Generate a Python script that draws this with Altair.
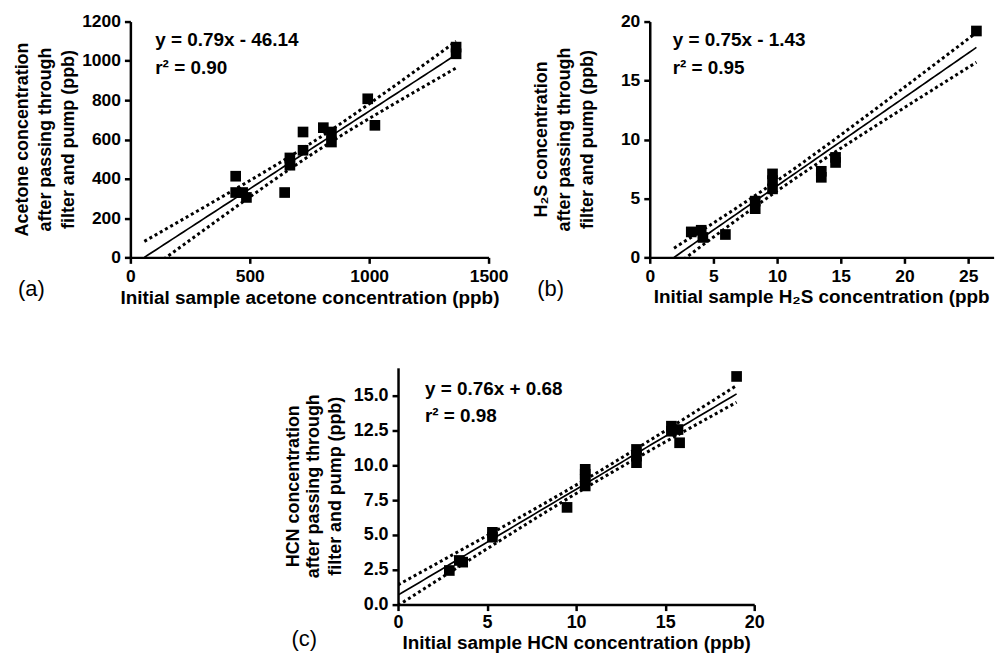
import numpy as np
import pandas as pd
import altair as alt

FONT = "Liberation Sans"

# ---------------- data ----------------
# (a) acetone (ppb)
acetone_initial = [441, 441, 470, 486, 646, 668, 668, 723, 723, 808, 842, 842, 994, 1024, 1364, 1364]
acetone_after = [413, 330, 330, 305, 330, 506, 469, 638, 545, 660, 638, 587, 807, 672, 1070, 1036]
acetone_fit = (0.79, -46.14)           # printed regression
acetone_band_end = 68                  # half-width of the dotted 95% band at the right end (read)
acetone_eq = ["y = 0.79x - 46.14", "r² = 0.90"]

# (b) H2S (ppb)
h2s_initial = [3.26, 4.04, 4.17, 5.94, 8.28, 8.28, 9.64, 9.64, 9.64, 13.47, 13.47, 14.59, 14.59, 25.65]
h2s_after = [2.16, 2.30, 1.69, 1.94, 4.77, 4.13, 7.08, 6.51, 5.81, 7.30, 6.79, 8.48, 8.05, 19.2]
h2s_fit = (0.75, -1.43)
h2s_band_end = 1.26
h2s_eq = ["y = 0.75x - 1.43", "r² = 0.95"]

# (c) HCN (ppb)
hcn_initial = [2.88, 3.44, 3.63, 5.30, 5.30, 9.49, 10.51, 10.51, 10.51, 10.51, 13.39, 13.39, 13.39,
               15.35, 15.35, 15.72, 15.81, 19.01]
hcn_after = [2.45, 3.17, 3.05, 5.19, 4.84, 6.98, 9.71, 9.36, 9.00, 8.52, 11.14, 10.66, 10.19,
             12.81, 12.45, 12.57, 11.62, 16.38]
hcn_fit = (0.76, 0.68)
hcn_band_end = 0.6
hcn_eq = ["y = 0.76x + 0.68", "r² = 0.98"]

ytitle_lines_tail = ["after passing through", "filter and pump (ppb)"]


def fit_and_band(xs, ys, fit, band_end, npts=80):
    """Regression line with a confidence band whose shape follows the data
    (1/n + (x - mean)^2 / Sxx) and whose width matches the band read at the right end."""
    xs = np.asarray(xs, float)
    slope, icpt = fit
    n = len(xs)
    xbar = xs.mean()
    sxx = np.sum((xs - xbar) ** 2)
    shape = lambda g: np.sqrt(1.0 / n + (g - xbar) ** 2 / sxx)
    k = band_end / shape(xs.max())
    x0 = max(0.0, -icpt / slope)
    grid = np.linspace(x0, xs.max(), npts)
    yfit = slope * grid + icpt
    half = k * shape(grid)
    return (pd.DataFrame({"x": grid, "y": yfit}),
            pd.DataFrame({"x": grid, "y": yfit + half}),
            pd.DataFrame({"x": grid, "y": yfit - half}))


one = pd.DataFrame({"k": [0]})


def text(txt, x, y, size=19, weight="bold", angle=0, align="left", **kw):
    return alt.Chart(one).mark_text(font=FONT, fontSize=size, fontWeight=weight, align=align,
                                    baseline="alphabetic", color="black", angle=angle, **kw
                                    ).encode(x=alt.value(x), y=alt.value(y), text=alt.value(txt))


def panel(xs, ys, fit, band_end, eq, label, xdom, xticks, xfmt, ydom, yticks, yfmt,
          xtitle, ytitle, w, h, eq_x, eq_y, lab_xy, ytitle_x, anchor, tick_fs,
          xtitle_y=46, xtitle_as_text=None, xlabel_pad=4):
    pts = pd.DataFrame({"x": xs, "y": ys})
    line_df, hi_df, lo_df = fit_and_band(xs, ys, fit, band_end)
    xaxis_kw = dict(values=xticks, format=xfmt, labelFontSize=tick_fs, labelPadding=xlabel_pad)
    if xtitle_as_text is None:
        xaxis_kw.update(title=xtitle, titleY=xtitle_y, titleBaseline="alphabetic")
    else:
        xaxis_kw.update(title=None)
    X = alt.X("x:Q", scale=alt.Scale(domain=xdom, nice=False, zero=False), axis=alt.Axis(**xaxis_kw))
    Y = alt.Y("y:Q", scale=alt.Scale(domain=ydom, nice=False, zero=False),
              axis=alt.Axis(values=yticks, format=yfmt, title=None, labelFontSize=tick_fs))
    layers = [
        alt.Chart(pts).mark_square(size=115, color="black", opacity=1).encode(x=X, y=Y),
        alt.Chart(line_df).mark_line(color="black", strokeWidth=1.7, clip=True).encode(x=X, y=Y),
        alt.Chart(hi_df).mark_line(color="black", strokeWidth=3, strokeDash=[3, 3], clip=True).encode(x=X, y=Y),
        alt.Chart(lo_df).mark_line(color="black", strokeWidth=3, strokeDash=[3, 3], clip=True).encode(x=X, y=Y),
        text(eq[0], eq_x, eq_y[0]),
        text(eq[1], eq_x, eq_y[1]),
        # panel label, y measured from the plot bottom
        text(label, lab_xy[0], h + lab_xy[1], size=22, weight="normal"),
    ]
    for line, bx in zip(ytitle, ytitle_x):
        layers.append(text(line, bx, h / 2, size=18, angle=270, align="center"))
    if xtitle_as_text is not None:
        tx, ty, lim = xtitle_as_text
        layers.append(text(xtitle, tx, ty, limit=lim, ellipsis=" "))
    layers.append(
        alt.Chart(one).mark_rule(opacity=0, strokeWidth=1)
        .encode(x=alt.value(anchor[0]), y=alt.value(anchor[1]),
                x2=alt.value(anchor[2]), y2=alt.value(anchor[3]))
    )
    return alt.layer(*layers).properties(width=w, height=h)


pa = panel(acetone_initial, acetone_after, acetone_fit, acetone_band_end, acetone_eq, "(a)",
           [0, 1500], [0, 500, 1000, 1500], "d", [0, 1200], [0, 200, 400, 600, 800, 1000, 1200], "d",
           "Initial sample acetone concentration (ppb)",
           ["Acetone concentration"] + ytitle_lines_tail,
           360, 237, 25, [25, 53], (-113, 39), [-103, -80, -57], [-123, -12, 385, 292], 17.5,
           xtitle_y=46)

pb = panel(h2s_initial, h2s_after, h2s_fit, h2s_band_end, h2s_eq, "(b)",
           [0, 27], [0, 5, 10, 15, 20, 25], "d", [0, 20], [0, 5, 10, 15, 20], "d",
           "Initial sample H₂S concentration (ppb)",
           ["H₂S concentration"] + ytitle_lines_tail,
           345.6, 237, 23, [25, 53], (-113, 39), [-103, -80, -57], [-137, -12, 300, 292], 17.5,
           xtitle_as_text=(4, 237 + 46, 344))

pc = panel(hcn_initial, hcn_after, hcn_fit, hcn_band_end, hcn_eq, "(c)",
           [0, 20], [0, 5, 10, 15, 20], "d", [0, 17], [0, 2.5, 5, 7.5, 10, 12.5, 15], ".1f",
           "Initial sample HCN concentration (ppb)",
           ["HCN concentration"] + ytitle_lines_tail,
           358, 238, 27, [27, 54], (-107, 42), [-100, -79, -57], [-112, -56, 300, 40], 18,
           xtitle_y=44, xlabel_pad=3)

spacer = alt.Chart(one).mark_rule(opacity=0).encode(
    x=alt.value(0), x2=alt.value(155), y=alt.value(0)
).properties(width=155, height=1)

chart = alt.vconcat(
    alt.hconcat(pa, pb, spacing=0),
    alt.hconcat(spacer, pc, spacing=0),
    spacing=0,
).properties(padding=0).configure_view(stroke=None).configure_axis(
    domainColor="black", domainWidth=2.5, tickColor="black", tickWidth=2.5, tickSize=6,
    labelFont=FONT, labelFontWeight="bold", labelColor="black", labelPadding=4,
    labelFlush=False, labelOverlap=False,
    titleFont=FONT, titleFontSize=19, titleFontWeight="bold", titleColor="black",
    grid=False
)

chart.save("out.html", embed_options={"renderer": "svg", "actions": False})
